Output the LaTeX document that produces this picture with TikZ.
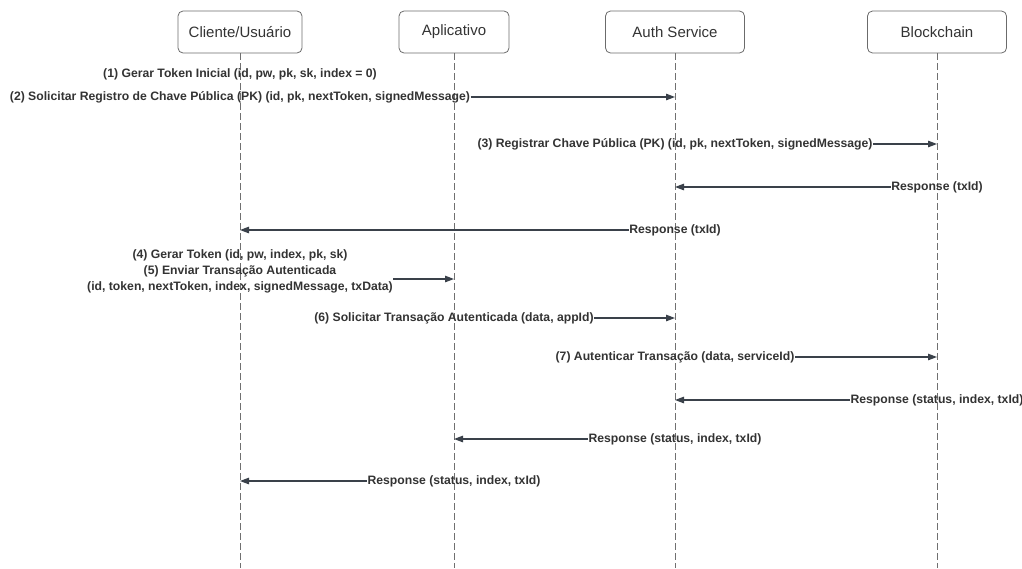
\documentclass[tikz,border=0pt]{standalone}
\usepackage{fontspec}
\setmainfont{Liberation Sans}
\usepackage{tikz}
\usetikzlibrary{
  arrows.meta,
  calc,
  positioning
}
\definecolor{boxgray}{HTML}{6B6B6B}
\definecolor{linegray}{HTML}{707070}
\definecolor{arrowgray}{HTML}{3A414A}
\definecolor{textgray}{HTML}{333333}
\tikzset{>=stealth}
\tikzset{
  actor/.style={draw=boxgray, line width=0.8pt, rounded corners=5pt,
    minimum height=42pt, text=textgray, font=\fontsize{15}{17}\selectfont},
  lifeline/.style={draw=linegray, line width=1pt, dash pattern=on 7pt off 3pt},
  msglabel/.style={text=textgray, inner sep=0.5pt, align=center,
    font=\bfseries\fontsize{12.2}{16}\selectfont},
  msg/.style={draw=arrowgray, line width=1.2pt,
    -{Triangle[length=9pt,width=6.5pt]}}
}

\begin{document}
\begin{tikzpicture}[x=1pt,y=-1pt]
			\useasboundingbox (0,0) rectangle (1022,568);
			\coordinate (bottom) at (0,568);
			% participants
			\node[actor, minimum width=124pt] (cli) at (240,32) {Cliente/Usuário};
			\node[actor, minimum width=110pt] (app) at (454,32) {Aplicativo};
			\node[actor, minimum width=139pt] (auth) at (675,32) {Auth Service};
			\node[actor, minimum width=139pt] (blk) at (937,32) {Blockchain};
			\foreach \p in {cli,app,auth,blk}
				\draw[lifeline] (\p.south) -- (\p.south |- bottom);
			% registro
			\node[msglabel] (m1) at (240,74) {(1) Gerar Token Inicial (id, pw, pk, sk, index = 0)};
			\node[msglabel] (m2) at (240,97) {(2) Solicitar Registro de Chave Pública (PK) (id, pk, nextToken, signedMessage)};
			\draw[msg] (m2.east) -- (m2.east -| auth);
			\node[msglabel] (m3) at (675,144) {(3) Registrar Chave Pública (PK) (id, pk, nextToken, signedMessage)};
			\draw[msg] (m3.east) -- (m3.east -| blk);
			\node[msglabel] (r1) at (937,187) {Response (txId)};
			\draw[msg] (r1.west) -- (r1.west -| auth);
			\node[msglabel] (r2) at (675,230) {Response (txId)};
			\draw[msg] (r2.west) -- (r2.west -| cli);
			% transacao
			\node[msglabel] (m4) at (240,255) {(4) Gerar Token (id, pw, index, pk, sk)};
			\node[msglabel] (m5) at (240,279) {(5) Enviar Transação Autenticada\\(id, token, nextToken, index, signedMessage, txData)};
			\draw[msg] (m5.east) -- (m5.east -| app);
			\node[msglabel] (m6) at (454,318) {(6) Solicitar Transação Autenticada (data, appId)};
			\draw[msg] (m6.east) -- (m6.east -| auth);
			\node[msglabel] (m7) at (675,357) {(7) Autenticar Transação (data, serviceId)};
			\draw[msg] (m7.east) -- (m7.east -| blk);
			\node[msglabel] (r3) at (937,400) {Response (status, index, txId)};
			\draw[msg] (r3.west) -- (r3.west -| auth);
			\node[msglabel] (r4) at (675,439) {Response (status, index, txId)};
			\draw[msg] (r4.west) -- (r4.west -| app);
			\node[msglabel] (r5) at (454,481) {Response (status, index, txId)};
			\draw[msg] (r5.west) -- (r5.west -| cli);
		\end{tikzpicture}
\end{document}
